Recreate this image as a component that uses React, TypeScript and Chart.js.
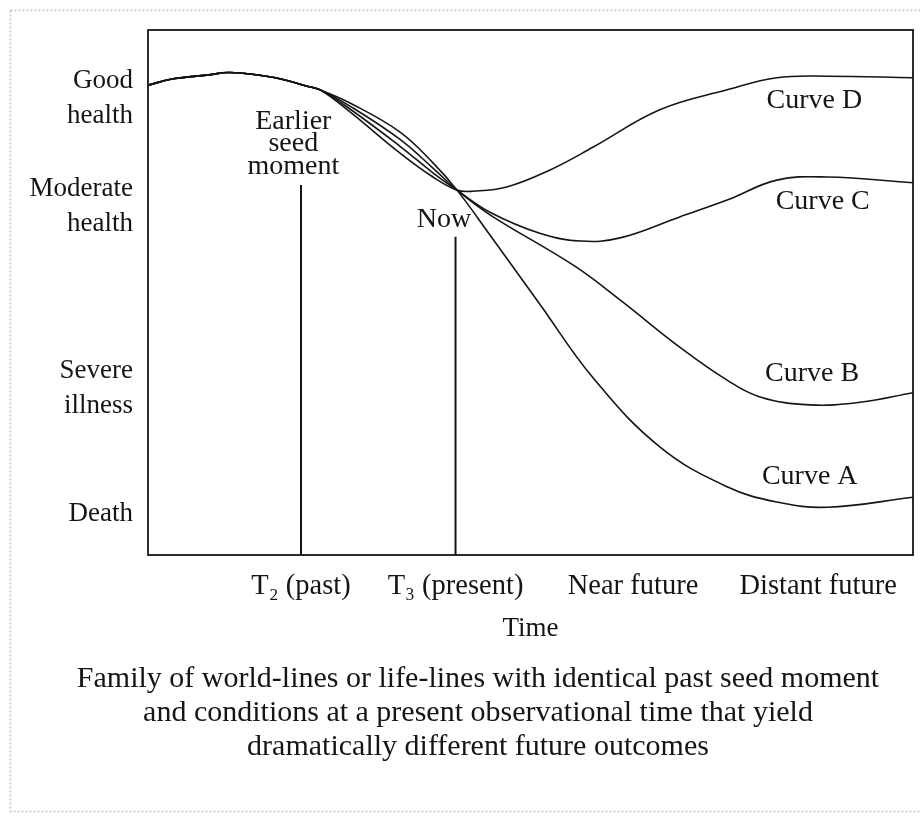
import React, { useEffect, useRef } from "react";
import { Chart, registerables } from "chart.js";

Chart.register(...registerables);

const FONT = '"Liberation Serif", "Times New Roman", serif';
const INK = "#151515";

// Axis ticks
const Y_TICK_VALUES = [87.0, 66.4, 31.7, 7.8];
const Y_TICK_LABELS = [["Good", "health"], ["Moderate", "health"], ["Severe", "illness"], ["Death"]];
const X_TICK_VALUES = [20, 40.2, 63.4, 87.6];
const X_TICK_LABELS = ["T₂ (past)", "T₃ (present)", "Near future", "Distant future"];
const X_TITLE = "Time";
const CAPTION = [
  "Family of world-lines or life-lines with identical past seed moment",
  "and conditions at a present observational time that yield",
  "dramatically different future outcomes",
];

// Shared past (all curves)
const SHARED_X = [0, 3.3, 7.7, 10.7, 16.3, 20.8, 22.5];
const SHARED_Y = [89.5, 90.7, 91.4, 91.9, 91.0, 89.3, 88.6];

// Slightly separated approach to "Now"
const FAN_X = [26.4, 32.9, 37.25];
const A_FAN = [86.1, 80.6, 74.7];
const B_FAN = [85.5, 79.2, 73.7];
const C_FAN = [84.95, 77.9, 72.8];
const D_FAN = [84.4, 76.6, 72.0];

// Convergence point "Now"
const NOW_X = 40.4;
const NOW_Y = 69.5;

// Futures
const A_FUT_X = [44.7, 51.2, 58.2, 66.9, 75.7, 82.2, 88.8, 100];
const A_FUT_Y = [60.95, 47.8, 33.7, 20.6, 13.0, 10.1, 9.1, 11.0];
const B_FUT_X = [44.7, 55.6, 61.7, 69.5, 75.7, 80.0, 86.5, 93.1, 100];
const B_FUT_Y = [64.8, 55.2, 48.6, 39.6, 33.3, 30.1, 28.6, 29.1, 30.9];
const C_FUT_X = [44.7, 51.2, 56.5, 61.7, 69.5, 75.7, 82.2, 88.8, 100];
const C_FUT_Y = [65.3, 61.3, 59.8, 60.4, 64.4, 67.6, 71.4, 72.0, 70.9];
const D_FUT_X = [42.5, 46.9, 52.5, 58.2, 66.9, 75.7, 82.2, 88.8, 100];
const D_FUT_Y = [69.3, 70.1, 73.3, 77.7, 84.8, 88.6, 90.9, 91.2, 90.9];

// Vertical marker lines (T2 seed moment, T3 now)
const MARKER_X = [20, 40.2];
const MARKER_TOP = [70.5, 60.6];

// In-plot annotations
const ANNOT_TEXT = [["Earlier", "seed", "moment"], ["Now"], ["Curve D"], ["Curve C"], ["Curve B"], ["Curve A"]];
const ANNOT_X = [19.0, 38.7, 87.1, 88.2, 86.8, 86.5];
const ANNOT_Y = [78.3, 63.8, 86.5, 67.3, 34.5, 15.0];

// Caption layout
const CAPTION_CENTER_X = 478;
const CAPTION_FIRST_Y = 679;
const CAPTION_LINE_H = 34;

function buildCurve(fan: number[], futX: number[], futY: number[]) {
  const pts: { x: number; y: number }[] = [];
  SHARED_X.forEach((x, i) => pts.push({ x, y: SHARED_Y[i] }));
  FAN_X.forEach((x, i) => pts.push({ x, y: fan[i] }));
  pts.push({ x: NOW_X, y: NOW_Y });
  futX.forEach((x, i) => pts.push({ x, y: futY[i] }));
  return pts;
}

const decorPlugin = {
  id: "decor",
  beforeDraw(chart: any) {
    const ctx = chart.ctx;
    ctx.save();
    ctx.fillStyle = "#fff";
    ctx.fillRect(0, 0, chart.width, chart.height);
    ctx.strokeStyle = "#c4c4c4";
    ctx.lineWidth = 1.5;
    ctx.setLineDash([2, 2]);
    ctx.strokeRect(10.5, 10.5, chart.width - 4, chart.height - 16);
    ctx.restore();
  },
  afterDatasetsDraw(chart: any) {
    const { ctx, chartArea: a, scales } = chart;
    ctx.save();
    ctx.strokeStyle = INK;
    ctx.lineWidth = 1.8;
    ctx.strokeRect(a.left, a.top, a.right - a.left, a.bottom - a.top);
    ctx.font = `28px ${FONT}`;
    ctx.fillStyle = INK;
    ctx.textAlign = "center";
    ctx.textBaseline = "middle";
    const lh = 22.5;
    ANNOT_TEXT.forEach((lines, i) => {
      const cx = scales.x.getPixelForValue(ANNOT_X[i]);
      const cy = scales.y.getPixelForValue(ANNOT_Y[i]);
      lines.forEach((t, j) => ctx.fillText(t, cx, cy + (j - (lines.length - 1) / 2) * lh));
    });
    ctx.font = `30px ${FONT}`;
    CAPTION.forEach((t, j) => ctx.fillText(t, CAPTION_CENTER_X, CAPTION_FIRST_Y + j * CAPTION_LINE_H));
    ctx.restore();
  },
};

export default function App() {
  const ref = useRef<HTMLCanvasElement | null>(null);

  useEffect(() => {
    if (!ref.current) return;
    const curveStyle = {
      borderColor: INK,
      borderWidth: 1.6,
      pointRadius: 0,
      fill: false,
      tension: 0.4,
    };
    const datasets: any[] = [
      { label: "Curve A", data: buildCurve(A_FAN, A_FUT_X, A_FUT_Y), ...curveStyle },
      { label: "Curve B", data: buildCurve(B_FAN, B_FUT_X, B_FUT_Y), ...curveStyle },
      { label: "Curve C", data: buildCurve(C_FAN, C_FUT_X, C_FUT_Y), ...curveStyle },
      { label: "Curve D", data: buildCurve(D_FAN, D_FUT_X, D_FUT_Y), ...curveStyle },
    ];
    MARKER_X.forEach((x, i) => {
      datasets.push({
        label: "marker" + i,
        data: [
          { x, y: 0 },
          { x, y: MARKER_TOP[i] },
        ],
        borderColor: INK,
        borderWidth: 2,
        pointRadius: 0,
        tension: 0,
        fill: false,
      });
    });

    const chart = new Chart(ref.current, {
      type: "line",
      data: { datasets },
      plugins: [decorPlugin],
      options: {
        animation: false,
        responsive: false,
        devicePixelRatio: 1,
        layout: { padding: { left: 20, right: 7, top: 30, bottom: 167 } },
        plugins: {
          legend: { display: false },
          tooltip: { enabled: false },
          title: { display: false },
        },
        scales: {
          x: {
            type: "linear",
            min: 0,
            max: 100,
            grid: { display: false, drawTicks: false },
            border: { display: false },
            afterBuildTicks: (s: any) => {
              s.ticks = X_TICK_VALUES.map((v) => ({ value: v }));
            },
            afterFit: (s: any) => {
              s.height = 95;
              s.paddingLeft = 0;
              s.paddingRight = 0;
            },
            ticks: {
              autoSkip: false,
              maxRotation: 0,
              padding: 16,
              color: INK,
              font: { family: FONT, size: 28.5, lineHeight: "32px" },
              callback: (_v: any, i: number) => X_TICK_LABELS[i],
            },
            title: {
              display: true,
              text: X_TITLE,
              color: INK,
              font: { family: FONT, size: 27, lineHeight: "32px" },
              padding: { top: 0, bottom: 5 },
            },
          },
          y: {
            type: "linear",
            min: 0,
            max: 100,
            grid: { display: false, drawTicks: false },
            border: { display: false },
            afterBuildTicks: (s: any) => {
              s.ticks = Y_TICK_VALUES.map((v) => ({ value: v }));
            },
            afterFit: (s: any) => {
              s.width = 128;
              s.paddingTop = 0;
              s.paddingBottom = 0;
            },
            ticks: {
              autoSkip: false,
              padding: 15,
              color: INK,
              font: { family: FONT, size: 27, lineHeight: "35px" },
              callback: (_v: any, i: number) => Y_TICK_LABELS[i],
            },
          },
        },
      } as any,
    });
    return () => chart.destroy();
  }, []);

  return (
    <div style={{ position: "fixed", left: 0, top: 0, width: 920, height: 817, background: "#fff" }}>
      <canvas ref={ref} width={920} height={817} style={{ display: "block" }} />
    </div>
  );
}
